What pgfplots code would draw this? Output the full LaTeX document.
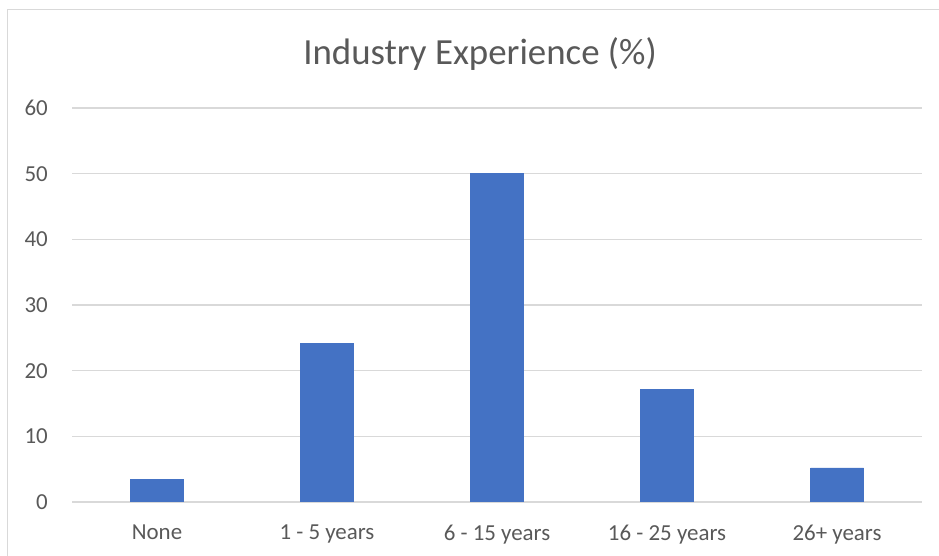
\documentclass[border=0pt]{standalone}
\usepackage{fontspec}
\setmainfont{Carlito}
\usepackage{pgfplots}
\pgfplotsset{compat=1.18}
\definecolor{barblue}{HTML}{4472C4}
\definecolor{gridgray}{HTML}{D9D9D9}
\definecolor{txtgray}{HTML}{595959}
\begin{document}
\begin{tikzpicture}[x=1bp,y=1bp]
\useasboundingbox (0,0) rectangle (939,556);
\draw[gridgray, line width=1.3bp] (7.3,0) -- (7.3,546.7) -- (939,546.7);
\node[anchor=base, text=txtgray, font=\fontsize{37}{42}\selectfont, inner sep=0pt] at (480,491) {Industry Experience (\%)};
\begin{axis}[at={(72bp,54bp)}, anchor=south west, scale only axis,
  width=850bp, height=394bp,
  xmin=-0.5, xmax=4.5, ymin=0, ymax=60,
  ytick={0,10,...,60},
  xtick={0,1,2,3,4},
  xticklabels={None,1 - 5 years,6 - 15 years,16 - 25 years,26+ years},
  ymajorgrids, grid style={gridgray, line width=1.3bp},
  axis line style={draw=none}, major tick length=0pt,
  tick label style={font=\fontsize{23}{27}\selectfont, text=txtgray, inner sep=0pt},
  xticklabel shift=23bp, yticklabel shift=24bp,
  /pgf/number format/assume math mode=true,
  ybar, bar width=53bp,
]
\addplot[fill=barblue, draw=barblue] coordinates {(0,3.4) (1,24.2) (2,50) (3,17.2) (4,5.2)};
\end{axis}
\end{tikzpicture}
\end{document}
